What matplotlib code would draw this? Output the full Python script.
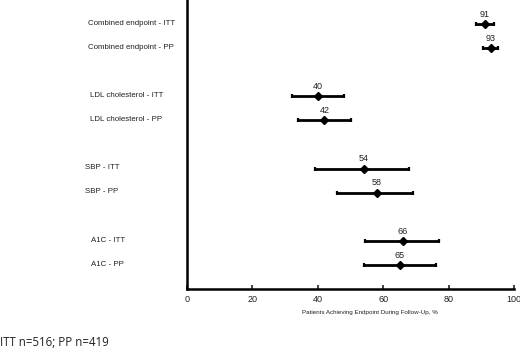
import matplotlib
matplotlib.use("Agg")
import matplotlib.pyplot as plt

# Data
labels = ["Combined endpoint - ITT", "Combined endpoint - PP",
          "LDL cholesterol - ITT", "LDL cholesterol - PP",
          "SBP - ITT", "SBP - PP",
          "A1C - ITT", "A1C - PP"]
values = [91, 93, 40, 42, 54, 58, 66, 65]
lower = [88.5, 90.5, 32, 34, 39, 46, 54.5, 54]
upper = [94, 95, 48, 50, 68, 69, 77, 76]

# layout: row positions (with gaps between groups) and label left edges (px)
rows = [1, 2, 4, 5, 7, 8, 10, 11]
label_x = [88, 88, 90, 90, 85, 85, 91, 91]

plt.rcParams["font.family"] = ["Liberation Sans", "DejaVu Sans"]

fig = plt.figure(figsize=(5.2, 3.48), dpi=100)
ax = fig.add_axes([187 / 520, 59 / 348, 327 / 520, 289 / 348])

err_lo = [v - l for v, l in zip(values, lower)]
err_hi = [u - v for v, u in zip(values, upper)]
ax.errorbar(values, rows, xerr=[err_lo, err_hi], fmt="D", color="black",
            ms=4.5, lw=2, capsize=1.5, capthick=1.6, clip_on=False)

for v, r in zip(values, rows):
    ax.text(v, r - 0.22, str(v), ha="center", va="bottom", fontsize=6.5, color="#222222")

for lab, r, lx in zip(labels, rows, label_x):
    fig.text(lx / 520, 1 - (r * 24.1 - 1) / 348, lab, ha="left", va="center",
             fontsize=5.7, color="#222222")

ax.set_xlim(0, 100)
ax.set_ylim(12.0, 0)
ax.set_xticks([0, 20, 40, 60, 80, 100])
ax.set_yticks([])
ax.tick_params(axis="x", direction="in", length=3, width=1.2, labelsize=6.5,
               colors="#222222", pad=4)
ax.spines["top"].set_visible(False)
ax.spines["right"].set_visible(False)
ax.spines["left"].set_linewidth(1.8)
ax.spines["bottom"].set_linewidth(1.8)
ax.set_xlabel("Patients Achieving Endpoint During Follow-Up, %", fontsize=4.5, color="#222222")
ax.xaxis.set_label_coords(0.56, -0.072)

fig.text(0, 6 / 348, "ITT n=516; PP n=419", ha="left", va="center",
         fontsize=8.3, family=["Open Sans", "DejaVu Sans"], color="#222222")

fig.savefig("out.png", dpi=100)
